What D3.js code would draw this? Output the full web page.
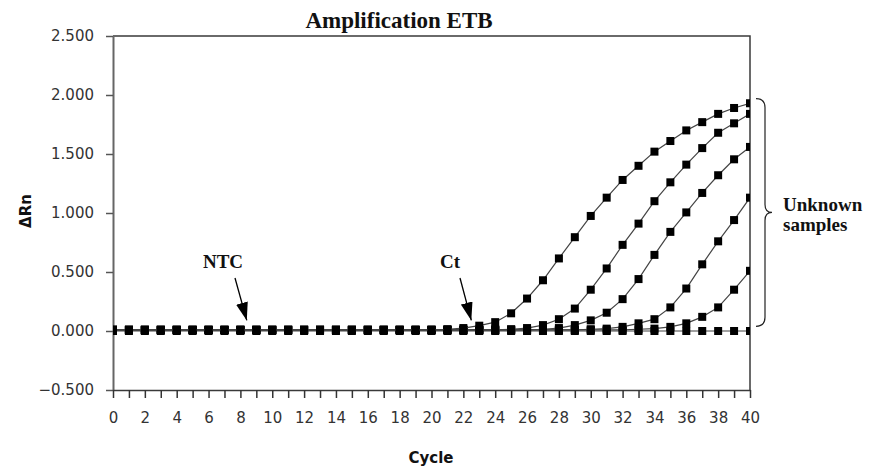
<!DOCTYPE html>
<html>
<head>
<meta charset="utf-8">
<script src="https://cdn.jsdelivr.net/npm/d3@7"></script>
<style>
  body { margin: 0; background: #fff; }
  svg { display: block; }
</style>
</head>
<body>
<svg id="chart" width="877" height="466"></svg>
<script>
// cycles 0..40
const cycles = [0, 1, 2, 3, 4, 5, 6, 7, 8, 9, 10, 11, 12, 13, 14, 15, 16, 17, 18, 19, 20,
  21, 22, 23, 24, 25, 26, 27, 28, 29, 30, 31, 32, 33, 34, 35, 36, 37, 38, 39, 40];

// unknown samples, delta Rn per cycle
const sampleA = [0.01, 0.01, 0.01, 0.01, 0.01, 0.01, 0.01, 0.01, 0.01, 0.01,
  0.01, 0.01, 0.01, 0.01, 0.01, 0.01, 0.01, 0.01, 0.01, 0.01,
  0.01, 0.015, 0.025, 0.045, 0.075, 0.15, 0.275, 0.43, 0.615, 0.795,
  0.975, 1.13, 1.28, 1.40, 1.52, 1.61, 1.70, 1.77, 1.84, 1.89, 1.93];
const sampleB = [0.01, 0.01, 0.01, 0.01, 0.01, 0.01, 0.01, 0.01, 0.01, 0.01,
  0.01, 0.01, 0.01, 0.01, 0.01, 0.01, 0.01, 0.01, 0.01, 0.01,
  0.01, 0.01, 0.01, 0.01, 0.01, 0.015, 0.025, 0.05, 0.10, 0.19,
  0.35, 0.53, 0.73, 0.91, 1.10, 1.26, 1.41, 1.55, 1.68, 1.76, 1.84];
const sampleC = [0.01, 0.01, 0.01, 0.01, 0.01, 0.01, 0.01, 0.01, 0.01, 0.01,
  0.01, 0.01, 0.01, 0.01, 0.01, 0.01, 0.01, 0.01, 0.01, 0.01,
  0.01, 0.01, 0.01, 0.01, 0.01, 0.01, 0.01, 0.015, 0.025, 0.05,
  0.09, 0.155, 0.27, 0.44, 0.645, 0.84, 1.005, 1.17, 1.32, 1.455, 1.56];
const sampleD = [0.01, 0.01, 0.01, 0.01, 0.01, 0.01, 0.01, 0.01, 0.01, 0.01,
  0.01, 0.01, 0.01, 0.01, 0.01, 0.01, 0.01, 0.01, 0.01, 0.01,
  0.01, 0.01, 0.01, 0.01, 0.01, 0.01, 0.01, 0.01, 0.01, 0.01,
  0.015, 0.02, 0.035, 0.065, 0.10, 0.20, 0.36, 0.565, 0.76, 0.94, 1.13];
const sampleE = [0.01, 0.01, 0.01, 0.01, 0.01, 0.01, 0.01, 0.01, 0.01, 0.01,
  0.01, 0.01, 0.01, 0.01, 0.01, 0.01, 0.01, 0.01, 0.01, 0.01,
  0.01, 0.01, 0.01, 0.01, 0.01, 0.01, 0.01, 0.01, 0.01, 0.01,
  0.01, 0.01, 0.01, 0.015, 0.02, 0.035, 0.065, 0.12, 0.20, 0.35, 0.51];
// no template control
const ntc = [0, 0, 0, 0, 0, 0, 0, 0, 0, 0, 0, 0, 0, 0, 0, 0, 0, 0, 0, 0, 0,
  0, 0, 0, 0, 0, 0, 0, 0, 0, 0, 0, 0, 0, 0, 0, 0, 0, 0, 0, 0];

const seriesList = [ntc, sampleE, sampleD, sampleC, sampleB, sampleA];
const yTicks = [-0.5, 0, 0.5, 1, 1.5, 2, 2.5];

const svg = d3.select("#chart");
const plotLeft = 113, plotRight = 750, plotTop = 36, plotBottom = 390;

let x = d3.scaleLinear().domain([0, 40]).range([plotLeft, plotRight]);
let y = d3.scaleLinear().domain([-0.5, 2.5]).range([plotBottom, plotTop]);

let defs = svg.append("defs");
defs.append("clipPath")
  .attr("id", "plotClip")
  .append("rect")
  .attr("x", plotLeft)
  .attr("y", plotTop)
  .attr("width", plotRight - plotLeft)
  .attr("height", plotBottom - plotTop);

// frame (top + right)
svg.append("path")
  .attr("d", `M${plotLeft},${plotTop}H${plotRight}V${plotBottom}`)
  .attr("fill", "none")
  .attr("stroke", "#3a3a3a")
  .attr("stroke-width", 1.5);

let yAxis = svg.append("g")
  .attr("transform", `translate(${plotLeft},0)`)
  .call(d3.axisLeft(y).tickValues(yTicks).tickFormat(d3.format(".3f"))
    .tickSize(7).tickSizeOuter(0).tickPadding(12));
yAxis.select(".domain").attr("stroke", "#666").attr("stroke-width", 2);
yAxis.selectAll(".tick line").attr("stroke", "#555").attr("stroke-width", 1.5);
yAxis.selectAll("text")
  .attr("font-family", "DejaVu Sans")
  .attr("font-size", 15)
  .attr("fill", "#333");

let xAxis = svg.append("g")
  .attr("transform", `translate(0,${plotBottom})`)
  .call(d3.axisBottom(x).tickValues(cycles)
    .tickFormat((d) => (d % 2 === 0 ? d : ""))
    .tickSize(8).tickSizeOuter(0).tickPadding(14));
xAxis.select(".domain").attr("stroke", "#3a3a3a").attr("stroke-width", 1.5);
xAxis.selectAll(".tick line").attr("stroke", "#333").attr("stroke-width", 1.5);
xAxis.selectAll("text")
  .attr("font-family", "DejaVu Sans")
  .attr("font-size", 15)
  .attr("fill", "#333");

// curves
let line = d3.line()
  .x((d, i) => x(cycles[i]))
  .y((d) => y(d));

let plot = svg.append("g").attr("clip-path", "url(#plotClip)");

seriesList.forEach((values) => {
  plot.append("path")
    .datum(values)
    .attr("d", line)
    .attr("fill", "none")
    .attr("stroke", "#444")
    .attr("stroke-width", 1.2);

  plot.selectAll(null)
    .data(values)
    .enter()
    .append("rect")
    .attr("x", (d, i) => x(cycles[i]) - 4)
    .attr("y", (d) => y(d) - 4)
    .attr("width", 8)
    .attr("height", 8)
    .attr("fill", "#000");
});

// titles
svg.append("text")
  .text("Amplification ETB")
  .attr("x", 399)
  .attr("y", 28)
  .attr("text-anchor", "middle")
  .attr("font-family", "Liberation Serif")
  .attr("font-weight", "bold")
  .attr("font-size", 23)
  .attr("fill", "#111");

svg.append("text")
  .text("ΔRn")
  .attr("transform", "translate(31,211) rotate(-90)")
  .attr("text-anchor", "middle")
  .attr("font-family", "DejaVu Sans")
  .attr("font-weight", "bold")
  .attr("font-size", 15)
  .attr("fill", "#111");

svg.append("text")
  .text("Cycle")
  .attr("x", 431)
  .attr("y", 463)
  .attr("text-anchor", "middle")
  .attr("font-family", "DejaVu Sans")
  .attr("font-weight", "bold")
  .attr("font-size", 15)
  .attr("fill", "#111");

// annotations
let arrowHead = defs.append("marker")
  .attr("id", "arrow")
  .attr("viewBox", "0 0 18 12")
  .attr("refX", 18)
  .attr("refY", 6)
  .attr("markerWidth", 18)
  .attr("markerHeight", 12)
  .attr("markerUnits", "userSpaceOnUse")
  .attr("orient", "auto");
arrowHead.append("path").attr("d", "M0,0L18,6L0,12Z").attr("fill", "#000");

let annotations = [
  { label: "NTC", tx: 223, ty: 268, from: [235, 278], cycle: 8.4, value: 0.09 },
  { label: "Ct", tx: 450, ty: 268, from: [460, 278], cycle: 22.5, value: 0.09 },
];

annotations.forEach((a) => {
  svg.append("text")
    .text(a.label)
    .attr("x", a.tx)
    .attr("y", a.ty)
    .attr("text-anchor", "middle")
    .attr("font-family", "Liberation Serif")
    .attr("font-weight", "bold")
    .attr("font-size", 19)
    .attr("fill", "#111");
  svg.append("line")
    .attr("x1", a.from[0])
    .attr("y1", a.from[1])
    .attr("x2", x(a.cycle))
    .attr("y2", y(a.value))
    .attr("stroke", "#000")
    .attr("stroke-width", 1.3)
    .attr("marker-end", "url(#arrow)");
});

// brace for unknown samples
let bTop = y(1.97), bBot = y(0.04), bMid = (bTop + bBot) / 2;
let brace = d3.path();
brace.moveTo(756, bTop);
brace.quadraticCurveTo(765, bTop, 765, bTop + 9);
brace.lineTo(765, bMid - 8);
brace.quadraticCurveTo(765, bMid, 772, bMid);
brace.quadraticCurveTo(765, bMid, 765, bMid + 8);
brace.lineTo(765, bBot - 9);
brace.quadraticCurveTo(765, bBot, 756, bBot);
svg.append("path")
  .attr("d", brace.toString())
  .attr("fill", "none")
  .attr("stroke", "#222")
  .attr("stroke-width", 1.2);

let unk = svg.append("text")
  .attr("font-family", "Liberation Serif")
  .attr("font-weight", "bold")
  .attr("font-size", 19)
  .attr("fill", "#111");
unk.append("tspan").attr("x", 783).attr("y", 211).text("Unknown");
unk.append("tspan").attr("x", 783).attr("y", 231).text("samples");
</script>
</body>
</html>
